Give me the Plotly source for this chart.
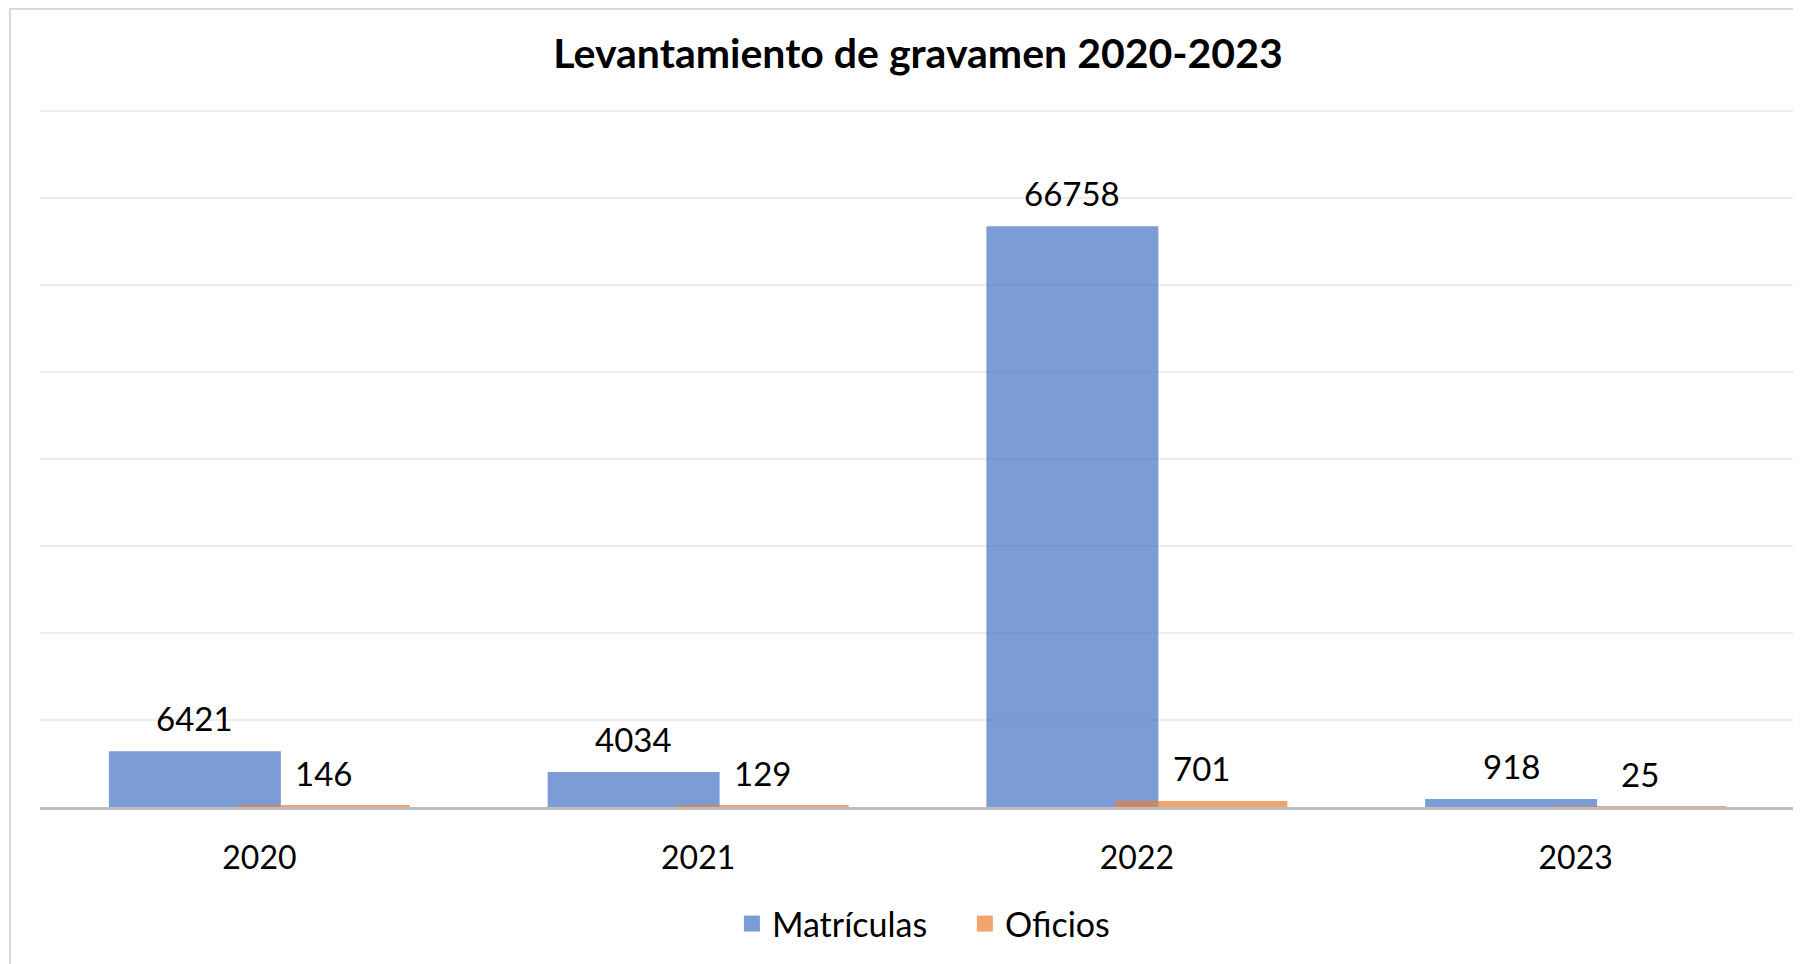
import plotly.graph_objects as go

# data
years = ["2020", "2021", "2022", "2023"]
matriculas = [6421, 4034, 66758, 918]
oficios = [146, 129, 701, 25]

TITLE = "Levantamiento de gravamen 2020-2023"
FONT = "Lato"

BLUE = "#4472C4"
ORANGE = "#ED7D31"

BAR_W = 0.392
OFFSETS = {"Matrículas": -0.343, "Oficios": -0.049}

# the page body adds an 8px margin, so the figure is 8px smaller than the window
W, H = 1793, 956

fig = go.Figure()
fig.add_trace(go.Bar(
    x=years, y=matriculas, name="Matrículas", showlegend=False,
    width=BAR_W, offset=OFFSETS["Matrículas"],
    marker=dict(color=BLUE, opacity=0.7, line_width=0),
))
fig.add_trace(go.Bar(
    x=years, y=oficios, name="Oficios", showlegend=False,
    width=BAR_W, offset=OFFSETS["Oficios"],
    marker=dict(color=ORANGE, opacity=0.7, line_width=0),
))
# legend entries with bigger square swatches
for name, col in [("Matrículas", BLUE), ("Oficios", ORANGE)]:
    fig.add_trace(go.Scatter(x=[None], y=[None], mode="markers", name=name,
                             marker=dict(symbol="square", size=16, color=col, opacity=0.7)))

# data labels above each bar (category index on x, pixel shift to the bar centre)
shift = 64.5
for i, v in enumerate(matriculas):
    fig.add_annotation(x=i, y=v, xref="x", yref="y", text=str(v), showarrow=False,
                       xshift=-shift, yshift=33, yanchor="middle",
                       font=dict(family=FONT, size=33, color="#000"))
for i, v in enumerate(oficios):
    fig.add_annotation(x=i, y=v, xref="x", yref="y", text=str(v), showarrow=False,
                       xshift=shift, yshift=33, yanchor="middle",
                       font=dict(family=FONT, size=33, color="#000"))

# chart border (light grey frame, clipped on right/bottom like the source)
fig.add_shape(type="rect", xref="paper", yref="paper",
              x0=-0.0171, x1=1.01, y0=-0.3, y1=1.135,
              line=dict(color="#D9D9D9", width=2), fillcolor="rgba(0,0,0,0)", layer="below")

fig.update_layout(
    width=W, height=H,
    paper_bgcolor="white", plot_bgcolor="white",
    margin=dict(l=32, r=6, t=96, b=157, autoexpand=False),
    barmode="overlay",
    font=dict(family=FONT, size=32, color="#000"),
    title=dict(text="<b>" + TITLE + "</b>", x=910 / W, xanchor="center",
               y=1 - 46 / H, yanchor="middle",
               font=dict(family=FONT, size=41, color="#000")),
    legend=dict(orientation="h", x=0.527, xanchor="center", y=-0.1664, yanchor="middle",
                font=dict(family=FONT, size=34, color="#000"), entrywidth=188,
                bgcolor="rgba(0,0,0,0)", itemclick=False, itemdoubleclick=False),
    showlegend=True,
)
fig.update_xaxes(type="category", range=[-0.5, 3.5], automargin=False,
                 showline=True, linecolor="#BFBFBF", linewidth=3,
                 ticks="outside", ticklen=21, tickcolor="rgba(0,0,0,0)",
                 showgrid=False, tickfont=dict(family=FONT, size=32, color="#000"))
fig.update_yaxes(range=[0, 80800], dtick=10000, showticklabels=False, automargin=False,
                 showgrid=True, gridcolor="#EDEDED", gridwidth=1.5,
                 zeroline=False, showline=False)

fig.write_html("out.html")
